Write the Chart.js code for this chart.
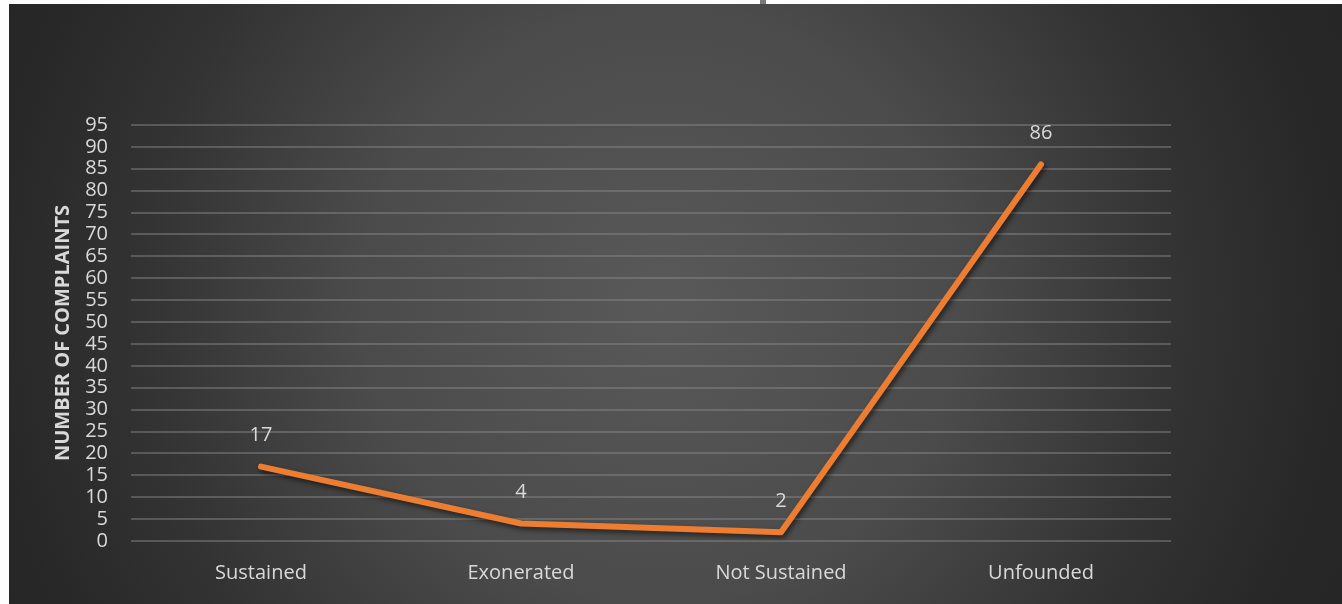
<!DOCTYPE html>
<html>
<head>
<meta charset="utf-8">
<script src="https://cdn.jsdelivr.net/npm/chart.js@4.4.0/dist/chart.umd.min.js"></script>
<style>
    html, body { margin: 0; padding: 0; background: #fdfdfd; }
    #frame {
        position: absolute; left: 9px; top: 4px; width: 1333px; height: 600px;
        background: radial-gradient(circle at 49% 50%, #595959 0px, #4b4b4b 300px, #333333 520px, #272727 680px, #242424 900px);
    }
    #mark { position: absolute; left: 760px; top: 0; width: 6px; height: 4px; background: #7a7a7a; }
</style>
</head>
<body>
<div id="mark"></div>
<div id="frame"><canvas id="chart" width="1333" height="600"></canvas></div>
<script>
const categories = ['Sustained', 'Exonerated', 'Not Sustained', 'Unfounded'];
const complaints = [17, 4, 2, 86];
const yMin = 0;
const yMax = 95;
const yStep = 5;

const textColor = '#d9d9d9';
const fontFamily = '"Open Sans", "Noto Sans", sans-serif';

// value labels above each point
const pointLabels = {
    id: 'pointLabels',
    afterDatasetsDraw(chart) {
        const ctx = chart.ctx;
        const meta = chart.getDatasetMeta(0);
        ctx.save();
        ctx.fillStyle = textColor;
        ctx.font = '20px ' + fontFamily;
        ctx.textAlign = 'center';
        ctx.textBaseline = 'middle';
        meta.data.forEach(function (pt, i) {
            ctx.fillText(String(complaints[i]), pt.x, pt.y - 31);
        });
        ctx.restore();
    }
};

// soft shadow under the line
const lineShadow = {
    id: 'lineShadow',
    beforeDatasetDraw(chart) {
        const ctx = chart.ctx;
        ctx.save();
        ctx.shadowColor = 'rgba(0,0,0,0.55)';
        ctx.shadowBlur = 5;
        ctx.shadowOffsetX = 2;
        ctx.shadowOffsetY = 3;
    },
    afterDatasetDraw(chart) {
        chart.ctx.restore();
    }
};

const ctx = document.getElementById('chart');
new Chart(ctx, {
    type: 'line',
    data: {
        labels: categories,
        datasets: [{
            data: complaints,
            borderColor: '#ed7d31',
            borderWidth: 6,
            borderCapStyle: 'round',
            borderJoinStyle: 'round',
            pointRadius: 0,
            tension: 0
        }]
    },
    options: {
        responsive: false,
        animation: false,
        layout: { padding: { top: 121, right: 171, left: 0, bottom: 0 } },
        plugins: {
            legend: { display: false },
            tooltip: { enabled: false }
        },
        scales: {
            x: {
                offset: true,
                grid: { display: false, drawTicks: false },
                border: { display: false },
                ticks: {
                    color: textColor,
                    font: { family: fontFamily, size: 20 },
                    padding: 20,
                    maxRotation: 0
                },
                afterFit(scale) { scale.height = 63; }
            },
            y: {
                min: yMin,
                max: yMax,
                grid: { color: 'rgba(140,140,140,0.45)', lineWidth: 2, drawTicks: false },
                border: { display: false },
                ticks: {
                    stepSize: yStep,
                    autoSkip: false,
                    color: textColor,
                    font: { family: fontFamily, size: 20 },
                    padding: 23
                },
                title: {
                    display: true,
                    text: 'NUMBER OF COMPLAINTS',
                    color: textColor,
                    font: { family: fontFamily, size: 20, weight: 'bold' },
                    padding: { top: 42, bottom: 0 }
                },
                afterFit(scale) { scale.width = 122; }
            }
        }
    },
    plugins: [lineShadow, pointLabels]
});
</script>
</body>
</html>
